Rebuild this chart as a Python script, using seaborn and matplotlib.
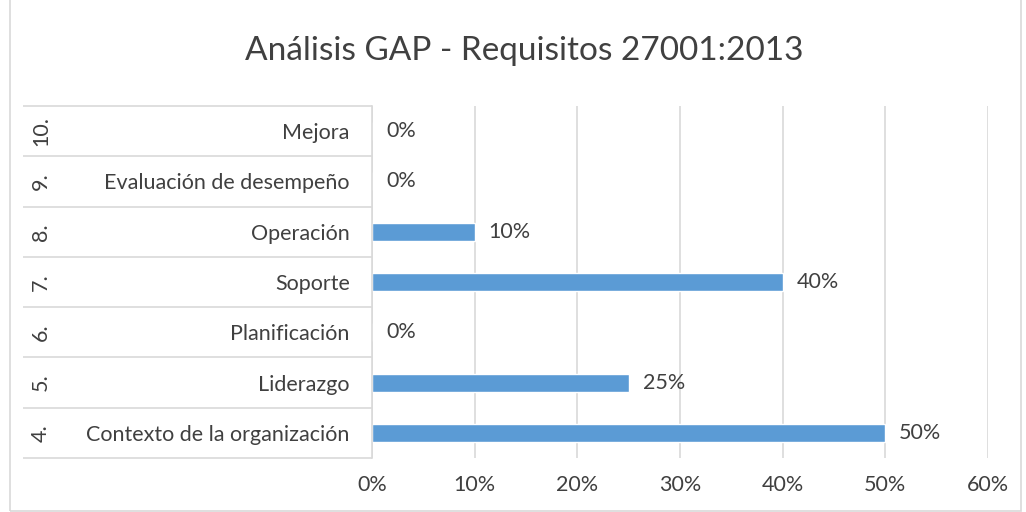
import numpy as np
import pandas as pd
import matplotlib.pyplot as plt
import seaborn as sns
from matplotlib.patches import Rectangle

# top to bottom, as in the chart
nums = ['10.', '9.', '8.', '7.', '6.', '5.', '4.']
names = ['Mejora', 'Evaluación de desempeño', 'Operación', 'Soporte',
         'Planificación', 'Liderazgo', 'Contexto de la organización']
values = [0.0, 0.0, 0.10, 0.40, 0.0, 0.25, 0.50]
xticks = [0, 0.1, 0.2, 0.3, 0.4, 0.5, 0.6]

df = pd.DataFrame({'num': nums, 'name': names, 'value': values})

sns.set_theme(style='white')
plt.rcParams['font.family'] = ['Lato', 'DejaVu Sans']
txt = '#404040'
grid = '#D9D9D9'
fs = 15.5

fig = plt.figure(figsize=(10.26, 5.12), dpi=100)
ax = fig.add_axes([0.3626, 0.1055, 0.6004, 0.6875])

sns.barplot(data=df, y='name', x='value', orient='h', color='#5B9BD5',
            width=0.36, saturation=1, ax=ax)

ax.set_xlim(0, 0.6)
ax.set_ylim(len(names) - 0.5, -0.5)
ax.set_xticks(xticks)
ax.set_xticklabels([f'{int(round(t * 100))}%' for t in xticks])
ax.set_xlabel('')
ax.set_ylabel('')
ax.tick_params(axis='x', length=0, pad=12, labelsize=fs, labelcolor=txt)
ax.tick_params(axis='y', length=0, pad=16, labelsize=fs, labelcolor=txt)
ax.grid(axis='x', color=grid, linewidth=1.2)
ax.set_axisbelow(True)
for s in ['top', 'right', 'bottom']:
    ax.spines[s].set_visible(False)
ax.spines['left'].set_color(grid)
ax.spines['left'].set_linewidth(1.2)

ax.bar_label(ax.containers[0], labels=[f'{int(round(v * 100))}%' for v in values],
             padding=10, fontsize=fs, color=txt)

# category separators and group numbers
tr = ax.get_yaxis_transform()
ax.hlines(np.arange(len(names) + 1) - 0.5, -0.567, 0, transform=tr,
          color=grid, linewidth=1.2, clip_on=False)
for i, n in enumerate(nums):
    ax.text(-0.537, i, n, transform=tr, rotation=90, ha='center', va='center',
            fontsize=fs, color=txt)

fig.text(0.511, 0.9, 'Análisis GAP - Requisitos 27001:2013', ha='center',
         va='center', fontsize=24, color=txt)

fig.patches.append(Rectangle((0.0097, 0.001), 0.985, 1.2, transform=fig.transFigure,
                             fill=False, edgecolor=grid, linewidth=1.2))

fig.savefig('out.png', dpi=100)
